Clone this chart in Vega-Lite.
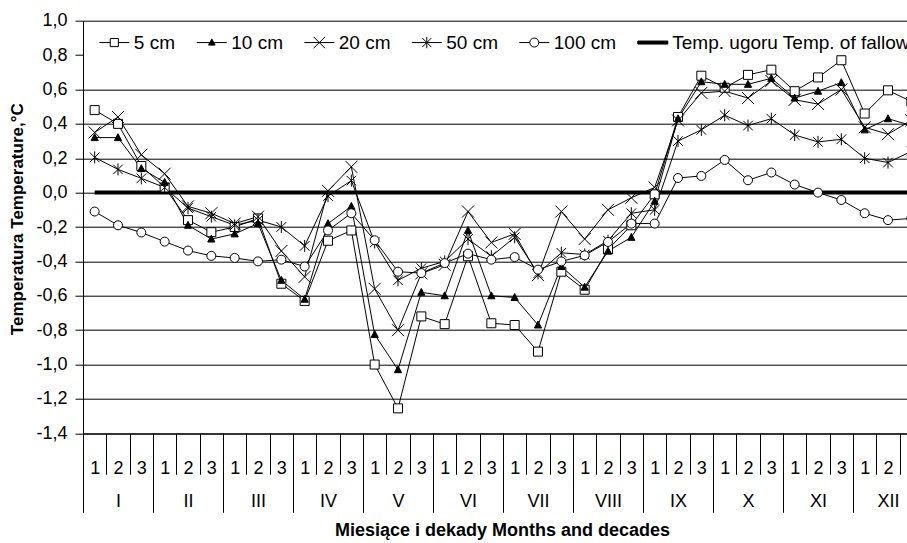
{
  "$schema": "https://vega.github.io/schema/vega-lite/v6.json",
  "width": 824,
  "height": 412.6,
  "autosize": "none",
  "padding": {"left": 83, "top": 20.7, "right": 0, "bottom": 109.7},
  "background": "white",
  "config": {"font": "Liberation Sans", "view": {"stroke": null}},
  "data": {"values": [
    {"d":0,"s":"5 cm","t":0.48},{"d":1,"s":"5 cm","t":0.40},{"d":2,"s":"5 cm","t":0.155},{"d":3,"s":"5 cm","t":0.03},{"d":4,"s":"5 cm","t":-0.16},{"d":5,"s":"5 cm","t":-0.23},{"d":6,"s":"5 cm","t":-0.20},{"d":7,"s":"5 cm","t":-0.15},{"d":8,"s":"5 cm","t":-0.53},{"d":9,"s":"5 cm","t":-0.63},{"d":10,"s":"5 cm","t":-0.28},{"d":11,"s":"5 cm","t":-0.22},{"d":12,"s":"5 cm","t":-1.00},{"d":13,"s":"5 cm","t":-1.255},{"d":14,"s":"5 cm","t":-0.72},{"d":15,"s":"5 cm","t":-0.765},{"d":16,"s":"5 cm","t":-0.37},{"d":17,"s":"5 cm","t":-0.76},{"d":18,"s":"5 cm","t":-0.77},{"d":19,"s":"5 cm","t":-0.925},{"d":20,"s":"5 cm","t":-0.46},{"d":21,"s":"5 cm","t":-0.565},{"d":22,"s":"5 cm","t":-0.33},{"d":23,"s":"5 cm","t":-0.19},{"d":24,"s":"5 cm","t":-0.01},{"d":25,"s":"5 cm","t":0.44},{"d":26,"s":"5 cm","t":0.68},{"d":27,"s":"5 cm","t":0.61},{"d":28,"s":"5 cm","t":0.685},{"d":29,"s":"5 cm","t":0.715},{"d":30,"s":"5 cm","t":0.59},{"d":31,"s":"5 cm","t":0.67},{"d":32,"s":"5 cm","t":0.77},{"d":33,"s":"5 cm","t":0.46},{"d":34,"s":"5 cm","t":0.595},{"d":35,"s":"5 cm","t":0.53},
    {"d":0,"s":"10 cm","t":0.32},{"d":1,"s":"10 cm","t":0.32},{"d":2,"s":"10 cm","t":0.14},{"d":3,"s":"10 cm","t":0.06},{"d":4,"s":"10 cm","t":-0.19},{"d":5,"s":"10 cm","t":-0.27},{"d":6,"s":"10 cm","t":-0.24},{"d":7,"s":"10 cm","t":-0.18},{"d":8,"s":"10 cm","t":-0.51},{"d":9,"s":"10 cm","t":-0.62},{"d":10,"s":"10 cm","t":-0.18},{"d":11,"s":"10 cm","t":-0.08},{"d":12,"s":"10 cm","t":-0.825},{"d":13,"s":"10 cm","t":-1.03},{"d":14,"s":"10 cm","t":-0.58},{"d":15,"s":"10 cm","t":-0.60},{"d":16,"s":"10 cm","t":-0.22},{"d":17,"s":"10 cm","t":-0.60},{"d":18,"s":"10 cm","t":-0.61},{"d":19,"s":"10 cm","t":-0.77},{"d":20,"s":"10 cm","t":-0.43},{"d":21,"s":"10 cm","t":-0.55},{"d":22,"s":"10 cm","t":-0.34},{"d":23,"s":"10 cm","t":-0.26},{"d":24,"s":"10 cm","t":-0.05},{"d":25,"s":"10 cm","t":0.43},{"d":26,"s":"10 cm","t":0.645},{"d":27,"s":"10 cm","t":0.63},{"d":28,"s":"10 cm","t":0.63},{"d":29,"s":"10 cm","t":0.665},{"d":30,"s":"10 cm","t":0.55},{"d":31,"s":"10 cm","t":0.59},{"d":32,"s":"10 cm","t":0.64},{"d":33,"s":"10 cm","t":0.365},{"d":34,"s":"10 cm","t":0.43},{"d":35,"s":"10 cm","t":0.39},
    {"d":0,"s":"20 cm","t":0.35},{"d":1,"s":"20 cm","t":0.44},{"d":2,"s":"20 cm","t":0.22},{"d":3,"s":"20 cm","t":0.11},{"d":4,"s":"20 cm","t":-0.08},{"d":5,"s":"20 cm","t":-0.12},{"d":6,"s":"20 cm","t":-0.18},{"d":7,"s":"20 cm","t":-0.14},{"d":8,"s":"20 cm","t":-0.34},{"d":9,"s":"20 cm","t":-0.49},{"d":10,"s":"20 cm","t":0.01},{"d":11,"s":"20 cm","t":0.15},{"d":12,"s":"20 cm","t":-0.56},{"d":13,"s":"20 cm","t":-0.80},{"d":14,"s":"20 cm","t":-0.47},{"d":15,"s":"20 cm","t":-0.42},{"d":16,"s":"20 cm","t":-0.11},{"d":17,"s":"20 cm","t":-0.29},{"d":18,"s":"20 cm","t":-0.24},{"d":19,"s":"20 cm","t":-0.48},{"d":20,"s":"20 cm","t":-0.11},{"d":21,"s":"20 cm","t":-0.27},{"d":22,"s":"20 cm","t":-0.10},{"d":23,"s":"20 cm","t":-0.03},{"d":24,"s":"20 cm","t":0.03},{"d":25,"s":"20 cm","t":0.42},{"d":26,"s":"20 cm","t":0.58},{"d":27,"s":"20 cm","t":0.59},{"d":28,"s":"20 cm","t":0.55},{"d":29,"s":"20 cm","t":0.65},{"d":30,"s":"20 cm","t":0.54},{"d":31,"s":"20 cm","t":0.515},{"d":32,"s":"20 cm","t":0.60},{"d":33,"s":"20 cm","t":0.38},{"d":34,"s":"20 cm","t":0.34},{"d":35,"s":"20 cm","t":0.42},
    {"d":0,"s":"50 cm","t":0.205},{"d":1,"s":"50 cm","t":0.135},{"d":2,"s":"50 cm","t":0.083},{"d":3,"s":"50 cm","t":0.03},{"d":4,"s":"50 cm","t":-0.09},{"d":5,"s":"50 cm","t":-0.14},{"d":6,"s":"50 cm","t":-0.19},{"d":7,"s":"50 cm","t":-0.16},{"d":8,"s":"50 cm","t":-0.20},{"d":9,"s":"50 cm","t":-0.31},{"d":10,"s":"50 cm","t":-0.02},{"d":11,"s":"50 cm","t":0.07},{"d":12,"s":"50 cm","t":-0.29},{"d":13,"s":"50 cm","t":-0.51},{"d":14,"s":"50 cm","t":-0.44},{"d":15,"s":"50 cm","t":-0.40},{"d":16,"s":"50 cm","t":-0.27},{"d":17,"s":"50 cm","t":-0.37},{"d":18,"s":"50 cm","t":-0.26},{"d":19,"s":"50 cm","t":-0.47},{"d":20,"s":"50 cm","t":-0.35},{"d":21,"s":"50 cm","t":-0.36},{"d":22,"s":"50 cm","t":-0.28},{"d":23,"s":"50 cm","t":-0.12},{"d":24,"s":"50 cm","t":-0.10},{"d":25,"s":"50 cm","t":0.30},{"d":26,"s":"50 cm","t":0.365},{"d":27,"s":"50 cm","t":0.45},{"d":28,"s":"50 cm","t":0.39},{"d":29,"s":"50 cm","t":0.43},{"d":30,"s":"50 cm","t":0.335},{"d":31,"s":"50 cm","t":0.295},{"d":32,"s":"50 cm","t":0.31},{"d":33,"s":"50 cm","t":0.20},{"d":34,"s":"50 cm","t":0.175},{"d":35,"s":"50 cm","t":0.24},
    {"d":0,"s":"100 cm","t":-0.11},{"d":1,"s":"100 cm","t":-0.19},{"d":2,"s":"100 cm","t":-0.232},{"d":3,"s":"100 cm","t":-0.285},{"d":4,"s":"100 cm","t":-0.337},{"d":5,"s":"100 cm","t":-0.368},{"d":6,"s":"100 cm","t":-0.38},{"d":7,"s":"100 cm","t":-0.40},{"d":8,"s":"100 cm","t":-0.39},{"d":9,"s":"100 cm","t":-0.43},{"d":10,"s":"100 cm","t":-0.22},{"d":11,"s":"100 cm","t":-0.12},{"d":12,"s":"100 cm","t":-0.277},{"d":13,"s":"100 cm","t":-0.46},{"d":14,"s":"100 cm","t":-0.468},{"d":15,"s":"100 cm","t":-0.41},{"d":16,"s":"100 cm","t":-0.355},{"d":17,"s":"100 cm","t":-0.39},{"d":18,"s":"100 cm","t":-0.375},{"d":19,"s":"100 cm","t":-0.448},{"d":20,"s":"100 cm","t":-0.40},{"d":21,"s":"100 cm","t":-0.365},{"d":22,"s":"100 cm","t":-0.287},{"d":23,"s":"100 cm","t":-0.18},{"d":24,"s":"100 cm","t":-0.18},{"d":25,"s":"100 cm","t":0.085},{"d":26,"s":"100 cm","t":0.097},{"d":27,"s":"100 cm","t":0.19},{"d":28,"s":"100 cm","t":0.072},{"d":29,"s":"100 cm","t":0.117},{"d":30,"s":"100 cm","t":0.047},{"d":31,"s":"100 cm","t":0.0},{"d":32,"s":"100 cm","t":-0.043},{"d":33,"s":"100 cm","t":-0.12},{"d":34,"s":"100 cm","t":-0.16},{"d":35,"s":"100 cm","t":-0.15},
    {"d":0,"s":"Temp. ugoru Temp. of fallow","t":0},{"d":1,"s":"Temp. ugoru Temp. of fallow","t":0},{"d":2,"s":"Temp. ugoru Temp. of fallow","t":0},{"d":3,"s":"Temp. ugoru Temp. of fallow","t":0},{"d":4,"s":"Temp. ugoru Temp. of fallow","t":0},{"d":5,"s":"Temp. ugoru Temp. of fallow","t":0},{"d":6,"s":"Temp. ugoru Temp. of fallow","t":0},{"d":7,"s":"Temp. ugoru Temp. of fallow","t":0},{"d":8,"s":"Temp. ugoru Temp. of fallow","t":0},{"d":9,"s":"Temp. ugoru Temp. of fallow","t":0},{"d":10,"s":"Temp. ugoru Temp. of fallow","t":0},{"d":11,"s":"Temp. ugoru Temp. of fallow","t":0},{"d":12,"s":"Temp. ugoru Temp. of fallow","t":0},{"d":13,"s":"Temp. ugoru Temp. of fallow","t":0},{"d":14,"s":"Temp. ugoru Temp. of fallow","t":0},{"d":15,"s":"Temp. ugoru Temp. of fallow","t":0},{"d":16,"s":"Temp. ugoru Temp. of fallow","t":0},{"d":17,"s":"Temp. ugoru Temp. of fallow","t":0},{"d":18,"s":"Temp. ugoru Temp. of fallow","t":0},{"d":19,"s":"Temp. ugoru Temp. of fallow","t":0},{"d":20,"s":"Temp. ugoru Temp. of fallow","t":0},{"d":21,"s":"Temp. ugoru Temp. of fallow","t":0},{"d":22,"s":"Temp. ugoru Temp. of fallow","t":0},{"d":23,"s":"Temp. ugoru Temp. of fallow","t":0},{"d":24,"s":"Temp. ugoru Temp. of fallow","t":0},{"d":25,"s":"Temp. ugoru Temp. of fallow","t":0},{"d":26,"s":"Temp. ugoru Temp. of fallow","t":0},{"d":27,"s":"Temp. ugoru Temp. of fallow","t":0},{"d":28,"s":"Temp. ugoru Temp. of fallow","t":0},{"d":29,"s":"Temp. ugoru Temp. of fallow","t":0},{"d":30,"s":"Temp. ugoru Temp. of fallow","t":0},{"d":31,"s":"Temp. ugoru Temp. of fallow","t":0},{"d":32,"s":"Temp. ugoru Temp. of fallow","t":0},{"d":33,"s":"Temp. ugoru Temp. of fallow","t":0},{"d":34,"s":"Temp. ugoru Temp. of fallow","t":0},{"d":35,"s":"Temp. ugoru Temp. of fallow","t":0}
  ]},
  "layer": [
    {
      "transform": [{"filter": "datum.s == 'Temp. ugoru Temp. of fallow'"}],
      "mark": {"type": "line", "color": "black", "strokeWidth": 4, "clip": true},
      "encoding": {
        "x": {"field": "d", "type": "quantitative", "scale": {"domain": [-0.5, 34.814], "nice": false, "zero": false},
          "axis": {"orient": "bottom", "values": [-0.5, 2.5, 5.5, 8.5, 11.5, 14.5, 17.5, 20.5, 23.5, 26.5, 29.5, 32.5],
            "grid": false, "domain": false, "ticks": true, "tickSize": 79, "tickColor": "black", "tickWidth": 1,
            "labelOffset": 35, "labelPadding": -20.3, "labelFontSize": 18, "labelColor": "black", "labelFont": "Liberation Sans",
            "labelOverlap": false, "labelFlush": false, "labelBound": false,
            "labelExpr": "['I','II','III','IV','V','VI','VII','VIII','IX','X','XI','XII'][round((datum.value + 0.5) / 3)]",
            "title": "Miesiące i dekady Months and decades", "titleFontSize": 18, "titleFontWeight": "bold", "titleColor": "black",
            "titleFont": "Liberation Sans", "titleX": 419, "titleY": 101.7, "titleBaseline": "alphabetic", "titleAlign": "center"}},
        "y": {"field": "t", "type": "quantitative", "scale": {"domain": [-1.4, 1.0], "nice": false, "zero": false}, "axis": null}
      }
    },
    {
      "transform": [{"filter": "datum.s != 'Temp. ugoru Temp. of fallow'"}],
      "mark": {"type": "line", "color": "black", "strokeWidth": 1, "clip": true},
      "encoding": {
        "x": {"field": "d", "type": "quantitative",
          "axis": {"orient": "bottom", "values": [-0.5,0.5,1.5,2.5,3.5,4.5,5.5,6.5,7.5,8.5,9.5,10.5,11.5,12.5,13.5,14.5,15.5,16.5,17.5,18.5,19.5,20.5,21.5,22.5,23.5,24.5,25.5,26.5,27.5,28.5,29.5,30.5,31.5,32.5,33.5,34.5],
            "grid": false, "domain": true, "domainColor": "black", "domainWidth": 1, "ticks": true, "tickSize": 41, "tickColor": "black", "tickWidth": 1,
            "labelOffset": 11.667, "labelPadding": -14.6, "labelFontSize": 18, "labelColor": "black", "labelFont": "Liberation Sans",
            "labelOverlap": false, "labelFlush": false, "labelBound": false,
            "labelExpr": "(round(datum.value + 0.5) % 3) + 1", "title": null}},
        "y": {"field": "t", "type": "quantitative",
          "axis": {"orient": "left", "values": [-1.4, -1.2, -1.0, -0.8, -0.6, -0.4, -0.2, 0, 0.2, 0.4, 0.6, 0.8, 1.0],
            "grid": true, "gridColor": "black", "gridWidth": 1,
            "gridOpacity": {"condition": {"test": "abs(datum.value - 0.8) < 0.01", "value": 0}, "value": 1},
            "domain": true, "domainColor": "black", "ticks": true, "tickSize": 8, "tickColor": "black",
            "labelPadding": 8, "labelFontSize": 18, "labelColor": "black", "labelFont": "Liberation Sans",
            "labelOverlap": false, "labelFlush": false,
            "labelExpr": "replace((datum.value < 0 ? '-' : '') + format(abs(datum.value), '.1f'), '.', ',')",
            "title": "Temperatura Temperature,°C", "titleFontSize": 17, "titleFontWeight": "bold", "titleColor": "black",
            "titleFont": "Liberation Sans", "titleX": -66, "titleY": 198, "titleAngle": 270, "titleBaseline": "middle", "titleAlign": "center"}},
        "detail": {"field": "s"}
      }
    },
    {
      "transform": [{"filter": "datum.s != 'Temp. ugoru Temp. of fallow'"}],
      "mark": {"type": "point", "size": 144, "filled": true, "stroke": "black", "strokeWidth": 1, "opacity": 1, "fillOpacity": 1, "clip": true},
      "encoding": {
        "x": {"field": "d", "type": "quantitative", "axis": null},
        "y": {"field": "t", "type": "quantitative", "axis": null},
        "shape": {"field": "s", "type": "nominal",
          "scale": {"domain": ["5 cm", "10 cm", "20 cm", "50 cm", "100 cm", "Temp. ugoru Temp. of fallow"],
            "range": ["M-0.75,-0.75L0.75,-0.75L0.75,0.75L-0.75,0.75Z", "M0,-0.65L0.6,0.5L-0.6,0.5Z", "M-1,-1L1,1M-1,1L1,-1", "M-0.8,-0.8L0.8,0.8M-0.8,0.8L0.8,-0.8M0,-1L0,1", "M0.75,0A0.75,0.75,0,1,1,-0.75,0A0.75,0.75,0,1,1,0.75,0Z", "circle"]},
          "legend": null},
        "fill": {"field": "s", "type": "nominal",
          "scale": {"domain": ["5 cm", "10 cm", "20 cm", "50 cm", "100 cm", "Temp. ugoru Temp. of fallow"],
            "range": ["white", "black", "transparent", "transparent", "white", "black"]},
          "legend": null}
      }
    },
    {
      "transform": [{"filter": "false"}],
      "mark": {"type": "point", "filled": false, "strokeWidth": 1, "opacity": 1},
      "encoding": {
        "shape": {"field": "s", "type": "nominal",
          "scale": {"domain": ["5 cm", "10 cm", "20 cm", "50 cm", "100 cm", "Temp. ugoru Temp. of fallow"],
            "range": ["M-1,0L-0.27,0M0.27,0L1,0M-0.27,-0.27L0.27,-0.27L0.27,0.27L-0.27,0.27Z", "M-1,0L1,0M0,-0.24L0.22,0.17L-0.22,0.17Z", "M-1,0L1,0M-0.38,-0.38L0.38,0.38M-0.38,0.38L0.38,-0.38", "M-1,0L1,0M-0.3,-0.3L0.3,0.3M-0.3,0.3L0.3,-0.3M0,-0.38L0,0.38", "M-1,0L-0.3,0M0.3,0L1,0M0.3,0A0.3,0.3,0,1,1,-0.3,0A0.3,0.3,0,1,1,0.3,0Z", "M-1,-0.1L1,-0.1L1,0.1L-1,0.1Z"]},
          "legend": {"orient": "none", "legendX": 15.8, "legendY": 6.1, "direction": "horizontal", "title": null,
            "labelFontSize": 19, "labelFont": "Liberation Sans", "labelColor": "black", "labelOffset": 4, "labelLimit": 0,
            "columnPadding": 18.5, "symbolSize": 900, "symbolStrokeWidth": 1, "padding": 0, "fillColor": "white", "symbolOpacity": 1}},
        "fill": {"field": "s", "type": "nominal",
          "scale": {"domain": ["5 cm", "10 cm", "20 cm", "50 cm", "100 cm", "Temp. ugoru Temp. of fallow"],
            "range": ["white", "black", "transparent", "transparent", "white", "black"]},
          "legend": {"orient": "none", "legendX": 15.8, "legendY": 6.1, "direction": "horizontal", "title": null,
            "labelFontSize": 19, "labelFont": "Liberation Sans", "labelColor": "black", "labelOffset": 4, "labelLimit": 0,
            "columnPadding": 18.5, "symbolSize": 900, "symbolStrokeWidth": 1, "padding": 0, "fillColor": "white", "symbolOpacity": 1}},
        "stroke": {"field": "s", "type": "nominal",
          "scale": {"domain": ["5 cm", "10 cm", "20 cm", "50 cm", "100 cm", "Temp. ugoru Temp. of fallow"],
            "range": ["black", "black", "black", "black", "black", "black"]},
          "legend": {"orient": "none", "legendX": 15.8, "legendY": 6.1, "direction": "horizontal", "title": null,
            "labelFontSize": 19, "labelFont": "Liberation Sans", "labelColor": "black", "labelOffset": 4, "labelLimit": 0,
            "columnPadding": 18.5, "symbolSize": 900, "symbolStrokeWidth": 1, "padding": 0, "fillColor": "white", "symbolOpacity": 1}}
      }
    }
  ],
  "resolve": {"axis": {"x": "independent", "y": "independent"}, "scale": {"shape": "independent", "fill": "independent", "stroke": "independent"}}
}
